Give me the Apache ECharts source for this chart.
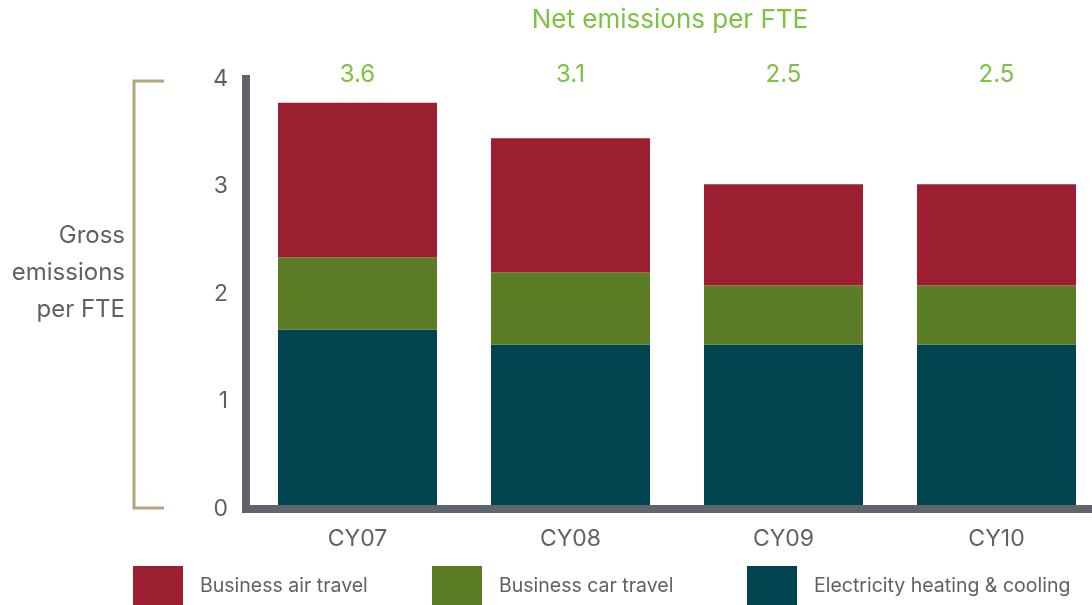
<!DOCTYPE html>
<html>
<head>
<meta charset="utf-8">
<title>Emissions per FTE</title>
<script src="https://cdn.jsdelivr.net/npm/echarts@6/dist/echarts.min.js"></script>
<style>
  html, body { margin: 0; padding: 0; background: #fff; }
  #chart { width: 1092px; height: 605px; }
</style>
</head>
<body>
<div id="chart"></div>
<script>
// data
var years = ['CY07', 'CY08', 'CY09', 'CY10'];
var electricity = [1.67, 1.53, 1.53, 1.53];
var carTravel = [0.67, 0.67, 0.55, 0.55];
var airTravel = [1.44, 1.25, 0.94, 0.94];
var netPerFte = ['3.6', '3.1', '2.5', '2.5'];
var yTicks = [0, 1, 2, 3, 4];

var font = 'Inter, Roboto, sans-serif';
var grey = '#5f6168';
var axisGrey = '#62646c';
var netGreen = '#7dc242';

var chart = echarts.init(document.getElementById('chart'));

var option = {
    animation: false,
    title: {
        text: 'Net emissions per FTE',
        left: 670,
        top: 7,
        textAlign: 'center',
        padding: 0,
        textStyle: { color: netGreen, fontSize: 26, fontWeight: 'normal', fontFamily: font }
    },
    legend: [
        { data: ['Business air travel'], left: 133, top: 566 },
        { data: ['Business car travel'], left: 432, top: 566 },
        { data: ['Electricity heating & cooling'], left: 747, top: 566 }
    ].map(function (l) {
        l.icon = 'rect';
        l.itemWidth = 50;
        l.itemHeight = 40;
        l.padding = 0;
        l.selectedMode = false;
        l.textStyle = { color: grey, fontSize: 19.5, fontFamily: font, padding: [4, 0, 0, 12] };
        return l;
    }),
    // the plot runs a little past the right edge of the picture
    grid: { left: 251, width: 852, top: 79, bottom: 96, outerBoundsMode: 'none' },
    xAxis: [
        {
            type: 'category',
            data: years,
            z: 10,
            axisLine: { lineStyle: { color: axisGrey, width: 8, cap: 'square' } },
            axisTick: { show: false },
            axisLabel: { color: grey, fontSize: 23, fontFamily: font, margin: 19 }
        },
        {
            type: 'category',
            position: 'top',
            data: years,
            axisLine: { show: false },
            axisTick: { show: false },
            axisLabel: {
                color: netGreen, fontSize: 24, fontFamily: font, margin: -8,
                formatter: function (v, i) { return netPerFte[i]; }
            }
        }
    ],
    yAxis: {
        type: 'value',
        min: yTicks[0],
        max: yTicks[yTicks.length - 1],
        interval: 1,
        offset: 5,
        z: 10,
        splitLine: { show: false },
        axisTick: { show: false },
        axisLine: { show: true, lineStyle: { color: axisGrey, width: 8, cap: 'square' } },
        axisLabel: { color: grey, fontSize: 23, fontFamily: font, margin: 18 }
    },
    series: [
        { name: 'Electricity heating & cooling', type: 'bar', stack: 'gross', barWidth: 159, data: electricity, itemStyle: { color: '#00444f' } },
        { name: 'Business car travel', type: 'bar', stack: 'gross', barWidth: 159, data: carTravel, itemStyle: { color: '#5a7d26' } },
        { name: 'Business air travel', type: 'bar', stack: 'gross', barWidth: 159, data: airTravel, itemStyle: { color: '#9c1f31' } }
    ],
    graphic: [
        {
            // bracket next to the y axis
            type: 'polyline',
            shape: { points: [[164, 81], [134, 81], [134, 508], [164, 508]] },
            style: { stroke: '#b3a77f', lineWidth: 3, fill: null }
        },
        {
            type: 'text',
            x: 125,
            y: 273,
            style: {
                text: 'Gross\nemissions\nper FTE',
                align: 'right',
                verticalAlign: 'middle',
                lineHeight: 37,
                fill: grey,
                fontSize: 24,
                fontFamily: font
            }
        }
    ]
};

chart.setOption(option);
</script>
</body>
</html>
